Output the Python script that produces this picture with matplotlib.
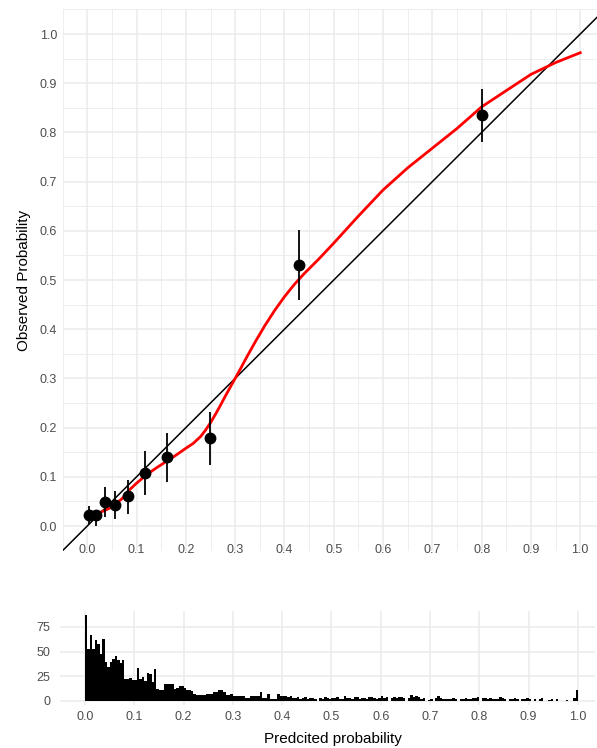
import matplotlib
matplotlib.use("Agg")
import matplotlib.pyplot as plt
import numpy as np

# calibration points (mean predicted, observed, CI low, CI high)
pred = [0.004, 0.018, 0.036, 0.057, 0.082, 0.118, 0.161, 0.248, 0.429, 0.801]
obs = [0.022, 0.022, 0.048, 0.042, 0.060, 0.108, 0.141, 0.179, 0.530, 0.835]
ci_low = [0.005, 0.001, 0.018, 0.014, 0.024, 0.063, 0.090, 0.124, 0.459, 0.781]
ci_high = [0.041, 0.029, 0.079, 0.071, 0.093, 0.152, 0.190, 0.232, 0.602, 0.888]

# smoothed calibration curve
curve_x = [0.00, 0.02, 0.045, 0.07, 0.085, 0.10, 0.12, 0.14, 0.16, 0.18, 0.20,
           0.215, 0.23, 0.24, 0.25, 0.26, 0.27, 0.28, 0.29, 0.30, 0.31, 0.32,
           0.34, 0.36, 0.38, 0.40, 0.42, 0.44, 0.47, 0.50, 0.55, 0.60, 0.65,
           0.70, 0.75, 0.80, 0.85, 0.90, 0.95, 1.00]
curve_y = [0.016, 0.025, 0.036, 0.055, 0.073, 0.087, 0.104, 0.118, 0.131, 0.144,
           0.158, 0.168, 0.182, 0.195, 0.210, 0.227, 0.245, 0.264, 0.282, 0.300,
           0.318, 0.337, 0.373, 0.407, 0.438, 0.466, 0.491, 0.513, 0.543, 0.575,
           0.630, 0.683, 0.728, 0.768, 0.808, 0.852, 0.885, 0.918, 0.942, 0.962]

# histogram of predicted probabilities, bin width 0.005 from 0 to 1
hist_counts = [
    87, 53, 67, 53, 62, 58, 48, 63, 40, 34,
    40, 43, 46, 42, 38, 42, 22, 22, 23, 21,
    21, 33, 22, 24, 20, 28, 27, 19, 32, 12,
    11, 11, 17, 17, 17, 17, 12, 13, 15, 15,
    13, 11, 11, 10, 7, 6, 6, 6, 6, 7,
    7, 7, 9, 9, 11, 11, 9, 6, 6, 7,
    5, 5, 5, 5, 5, 3, 3, 5, 5, 5,
    5, 9, 3, 3, 7, 2, 2, 2, 7, 5,
    5, 5, 4, 5, 3, 3, 4, 2, 3, 4,
    2, 3, 3, 2, 0, 3, 2, 4, 3, 2,
    3, 3, 4, 2, 2, 5, 3, 3, 2, 4,
    4, 2, 3, 3, 2, 4, 4, 3, 2, 3,
    5, 3, 4, 0, 3, 4, 3, 4, 4, 3,
    0, 3, 6, 4, 5, 4, 2, 3, 0, 1,
    2, 0, 3, 5, 3, 2, 2, 2, 2, 3,
    2, 0, 2, 2, 3, 2, 2, 3, 3, 4,
    0, 3, 3, 2, 3, 2, 2, 2, 4, 3,
    2, 0, 2, 2, 3, 2, 0, 2, 2, 3,
    2, 0, 2, 0, 2, 3, 0, 0, 1, 2,
    0, 2, 0, 0, 0, 1, 0, 0, 3, 11,
]
bin_width = 0.005

main_ticks = [round(0.1 * i, 1) for i in range(11)]
minor_ticks = [round(0.05 + 0.1 * i, 2) for i in range(-1, 11)]
hist_yticks = [0, 25, 50, 75]

grid_col = "#EBEBEB"
tick_col = "#4D4D4D"
plt.rcParams["font.family"] = ["Liberation Sans", "DejaVu Sans"]

fig = plt.figure(figsize=(5.97, 7.48), dpi=100)
ax = fig.add_axes([0.1049, 0.2639, 0.8951, 0.7235])
axh = fig.add_axes([0.1011, 0.0571, 0.8951, 0.1263])

# main calibration panel
ax.set_xticks(main_ticks)
ax.set_yticks(main_ticks)
ax.set_xticks(minor_ticks, minor=True)
ax.set_yticks(minor_ticks, minor=True)
ax.set_xticklabels([f"{t:.1f}" for t in main_ticks])
ax.set_yticklabels([f"{t:.1f}" for t in main_ticks])
ax.set_xlim(-0.05, 1.034)
ax.set_ylim(-0.05, 1.05)
ax.grid(True, which="major", color=grid_col, lw=1.1)
ax.grid(True, which="minor", color=grid_col, lw=0.6)
ax.set_axisbelow(True)

ax.axline((0, 0), slope=1, color="black", lw=1.1, zorder=2)
ax.plot(curve_x, curve_y, color="red", lw=2.0, zorder=3)
yerr = [np.array(obs) - np.array(ci_low), np.array(ci_high) - np.array(obs)]
ax.errorbar(pred, obs, yerr=yerr, fmt="o", color="black", ms=7.5,
            elinewidth=1.3, capsize=0, zorder=4)
ax.set_ylabel("Observed Probability", fontsize=11, labelpad=6)

# histogram panel
edges = np.arange(len(hist_counts) + 1) * bin_width
axh.stairs(hist_counts, edges, fill=True, color="black", zorder=2)
axh.set_xticks(main_ticks)
axh.set_xticklabels([f"{t:.1f}" for t in main_ticks])
axh.set_yticks(hist_yticks)
axh.set_xlim(-0.05, 1.034)
axh.set_ylim(-4.35, 91.35)
axh.grid(True, color=grid_col, lw=1.1)
axh.set_axisbelow(True)
axh.set_xlabel("Predcited probability", fontsize=11)
axh.xaxis.set_label_coords(0.51, -0.28)

for a in (ax, axh):
    for s in a.spines.values():
        s.set_visible(False)
    a.tick_params(which="both", length=0, labelsize=9, labelcolor=tick_col, pad=4)
ax.tick_params(axis="x", pad=-4.5)
axh.tick_params(axis="y", pad=7)

fig.savefig("out.png", dpi=100)
